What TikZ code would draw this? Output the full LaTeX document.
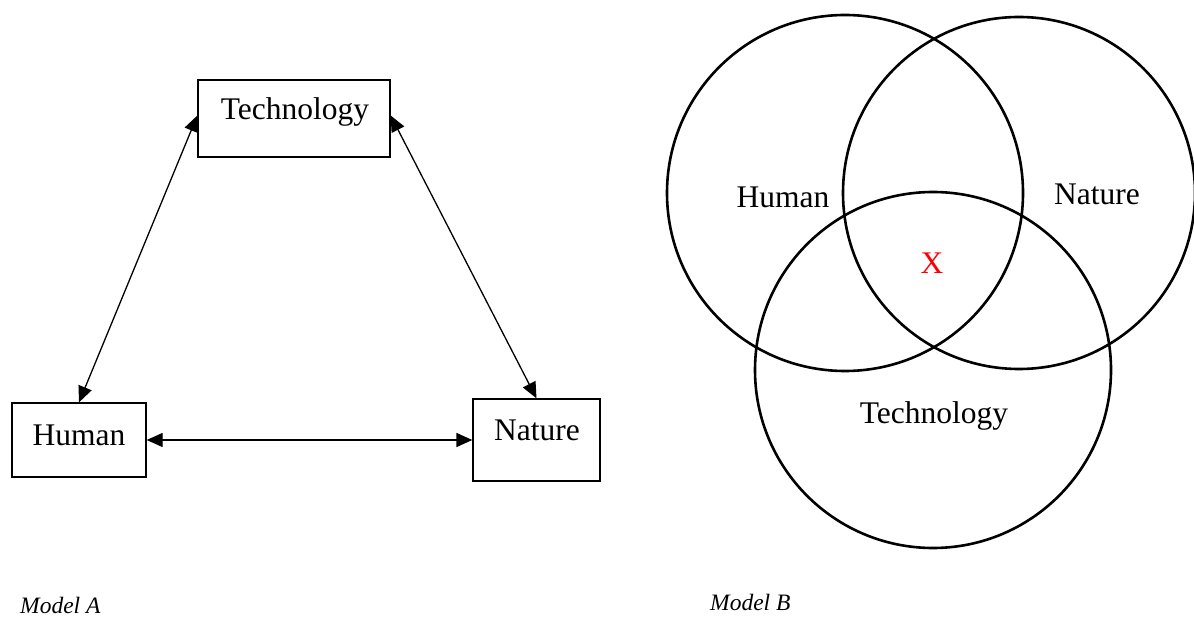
\documentclass[tikz,border=0pt]{standalone}
\usepackage{fontspec}
\setmainfont{Liberation Serif}
\usetikzlibrary{arrows.meta}
\tikzset{
  box/.style={draw, line width=1.3pt, inner sep=0pt},
  lbl/.style={font=\fontsize{31.5}{36}\selectfont, anchor=base, inner sep=0pt},
  caption text/.style={font=\fontsize{23.5}{28}\selectfont\itshape, anchor=base west, inner sep=0pt},
  link/.style={line width=1.3pt, {Triangle[length=16pt,width=14pt]}-{Triangle[length=16pt,width=14pt]}},
  ring/.style={draw, circle, line width=2.6pt, inner sep=0pt}
}
\begin{document}
\begin{tikzpicture}[x=1pt,y=-1pt]
\useasboundingbox (0,0) rectangle (1194,617);
% Model A
\node[box, minimum width=192pt, minimum height=77pt] (tech) at (294,118.5) {};
\node[box, minimum width=134pt, minimum height=74pt] (human) at (79,440) {};
\node[box, minimum width=127pt, minimum height=82pt] (nature) at (536.5,440) {};
\node[lbl] (techt) at (295,120) {Technology};
\node[lbl] (humant) at (79,446) {Human};
\node[lbl] (naturet) at (537,440) {Nature};
\draw[link] ([yshift=3pt]tech.west) -- (human.north);
\draw[link] ([yshift=3pt]tech.east) -- (nature.north);
\draw[link] (human.east) -- (nature.west);
\node[caption text] (capa) at (20,613) {Model A};
% Model B
\node[ring, minimum size=356pt] (ch) at (845,193) {};
\node[ring, minimum size=352pt] (cn) at (1019,193) {};
\node[ring, minimum size=356pt] (ct) at (933,370) {};
\node[lbl] (chl) at (783,208) {Human};
\node[lbl] (cnl) at (1097,205) {Nature};
\node[lbl, text=red] (cx) at (932,274) {X};
\node[lbl] (ctl) at (934,424) {Technology};
\node[caption text] (capb) at (710,610) {Model B};
\end{tikzpicture}
\end{document}
